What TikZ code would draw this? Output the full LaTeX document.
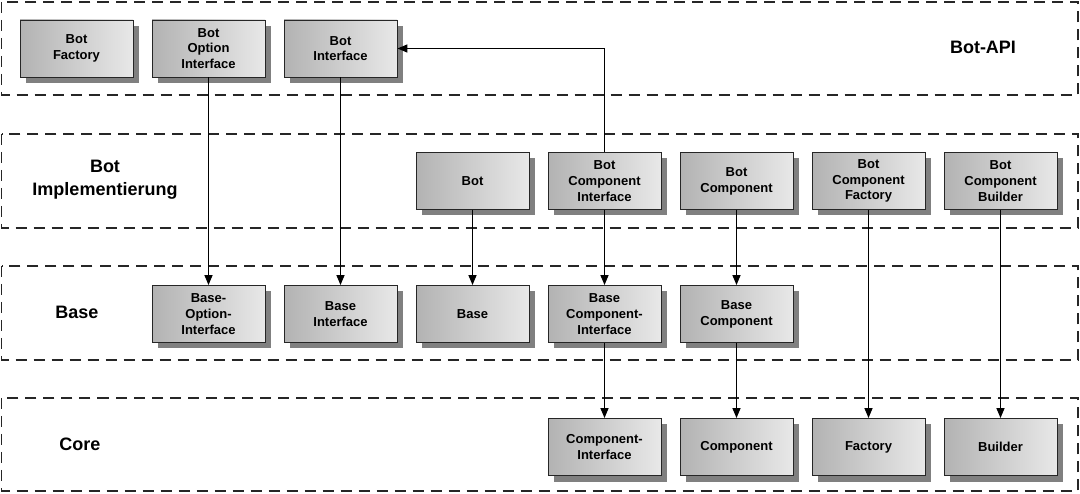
\documentclass[tikz,border=0pt]{standalone}
\usepackage{fontspec}
\setmainfont{Liberation Sans}
\usetikzlibrary{arrows.meta,shadows}
\begin{document}
\begin{tikzpicture}[x=1pt,y=1pt,
  comp/.style={draw=black!85, line width=0.9pt, minimum width=113pt, minimum height=57pt, inner sep=0pt,
    left color=black!30, right color=black!9, align=center,
    font=\bfseries\fontsize{13}{15.8}\selectfont,
    general shadow={fill=black!50, shadow xshift=6pt, shadow yshift=-6pt}},
  layer/.style={draw=black!85, line width=1.8pt, dash pattern=on 11pt off 7pt},
  lbl/.style={font=\bfseries\fontsize{18}{23}\selectfont, align=center},
  dep/.style={line width=1.4pt, -{Triangle[length=10pt,width=8pt]}}]
\useasboundingbox (0,0) rectangle (1080,-494);
% layers
\draw[layer] (1.5,-2) rectangle (1078,-95);
\draw[layer] (1.5,-134) rectangle (1078,-228);
\draw[layer] (1.5,-266) rectangle (1078,-360);
\draw[layer] (1.5,-398) rectangle (1078,-491);
% labels
\node[lbl] (lapi) at (983,-47) {Bot-API};
\node[lbl] (limpl) at (105,-180) {Bot\\Implementierung};
\node[lbl] (lbase) at (77,-312) {Base};
\node[lbl] (lcore) at (80,-444) {Core};
% Bot-API
\node[comp] (bf) at (76.5,-48.5) {Bot\\Factory};
\node[comp] (boi) at (208.5,-48.5) {Bot\\Option\\Interface};
\node[comp] (bi) at (340.5,-48.5) {Bot\\Interface};
% Bot Implementierung
\node[comp] (bot) at (472.5,-181) {Bot};
\node[comp] (bci) at (604.5,-181) {Bot\\Component\\Interface};
\node[comp] (bc) at (736.5,-181) {Bot\\Component};
\node[comp] (bcf) at (868.5,-181) {Bot\\Component\\Factory};
\node[comp] (bcb) at (1000.5,-181) {Bot\\Component\\Builder};
% Base
\node[comp] (baoi) at (208.5,-314) {Base-\\Option-\\Interface};
\node[comp] (bai) at (340.5,-314) {Base\\Interface};
\node[comp] (ba) at (472.5,-314) {Base};
\node[comp] (baci) at (604.5,-314) {Base\\Component-\\Interface};
\node[comp] (bac) at (736.5,-314) {Base\\Component};
% Core
\node[comp] (ci) at (604.5,-447) {Component-\\Interface};
\node[comp] (co) at (736.5,-447) {Component};
\node[comp] (fa) at (868.5,-447) {Factory};
\node[comp] (bu) at (1000.5,-447) {Builder};
% connectors
\draw[dep] (boi) -- (baoi);
\draw[dep] (bi) -- (bai);
\draw[dep] (bot) -- (ba);
\draw[dep] (bci) -- (baci);
\draw[dep] (bc) -- (bac);
\draw[dep] (baci) -- (ci);
\draw[dep] (bac) -- (co);
\draw[dep] (bcf) -- (fa);
\draw[dep] (bcb) -- (bu);
\draw[dep] (bci.north) |- (bi.east);
\end{tikzpicture}
\end{document}
